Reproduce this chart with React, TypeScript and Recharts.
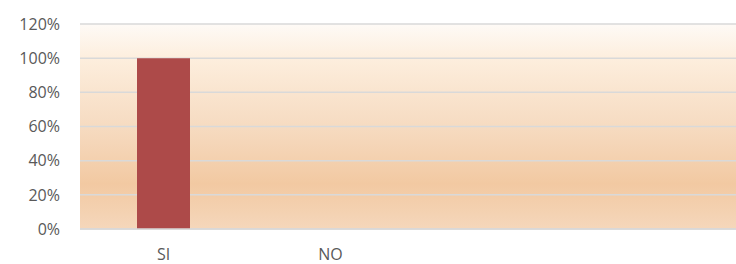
import React from "react";
import { BarChart, Bar, XAxis, YAxis, CartesianGrid } from "recharts";

const categories = ["SI", "NO", "", " "];
const values = [1, 0, null, null];
const yTicks = [0, 0.2, 0.4, 0.6, 0.8, 1.0, 1.2];

const data = categories.map((c, i) => ({ name: c, value: values[i] }));

const fmt = (v: number) => `${Math.round(v * 100)}%`;

export default function App() {
  return (
    <div style={{ position: "absolute", left: 0, top: 0, width: 736, height: 264, overflow: "hidden", background: "#fff" }}>
      <BarChart
        width={760}
        height={264}
        data={data}
        margin={{ top: 24, right: 12, bottom: 5, left: 0 }}
      >
        <defs>
          <linearGradient id="bgGrad" x1="0" y1="0" x2="0" y2="1">
            <stop offset="0" stopColor="#FEFAF6" />
            <stop offset="0.17" stopColor="#FDEEDD" />
            <stop offset="0.5" stopColor="#F6DBC1" />
            <stop offset="0.78" stopColor="#F2C9A2" />
            <stop offset="1" stopColor="#F5D7BB" />
          </linearGradient>
        </defs>
        <CartesianGrid vertical={false} stroke="#d9d9d9" strokeWidth={1.5} fill="url(#bgGrad)" fillOpacity={1} />
        <XAxis
          dataKey="name"
          height={30}
          axisLine={{ stroke: "#d9d9d9", strokeWidth: 1.5 }}
          tickLine={false}
          tickMargin={14}
          tick={{ fill: "#595959", fontSize: 16, fontFamily: "Open Sans" }}
        />
        <YAxis
          width={80}
          domain={[0, 1.2]}
          ticks={yTicks}
          tickFormatter={fmt}
          axisLine={false}
          tickLine={false}
          tickMargin={14}
          tick={{ fill: "#595959", fontSize: 16, fontFamily: "Open Sans" }}
        />
        <Bar dataKey="value" fill="#AD4A49" barSize={53} isAnimationActive={false} />
      </BarChart>
    </div>
  );
}
